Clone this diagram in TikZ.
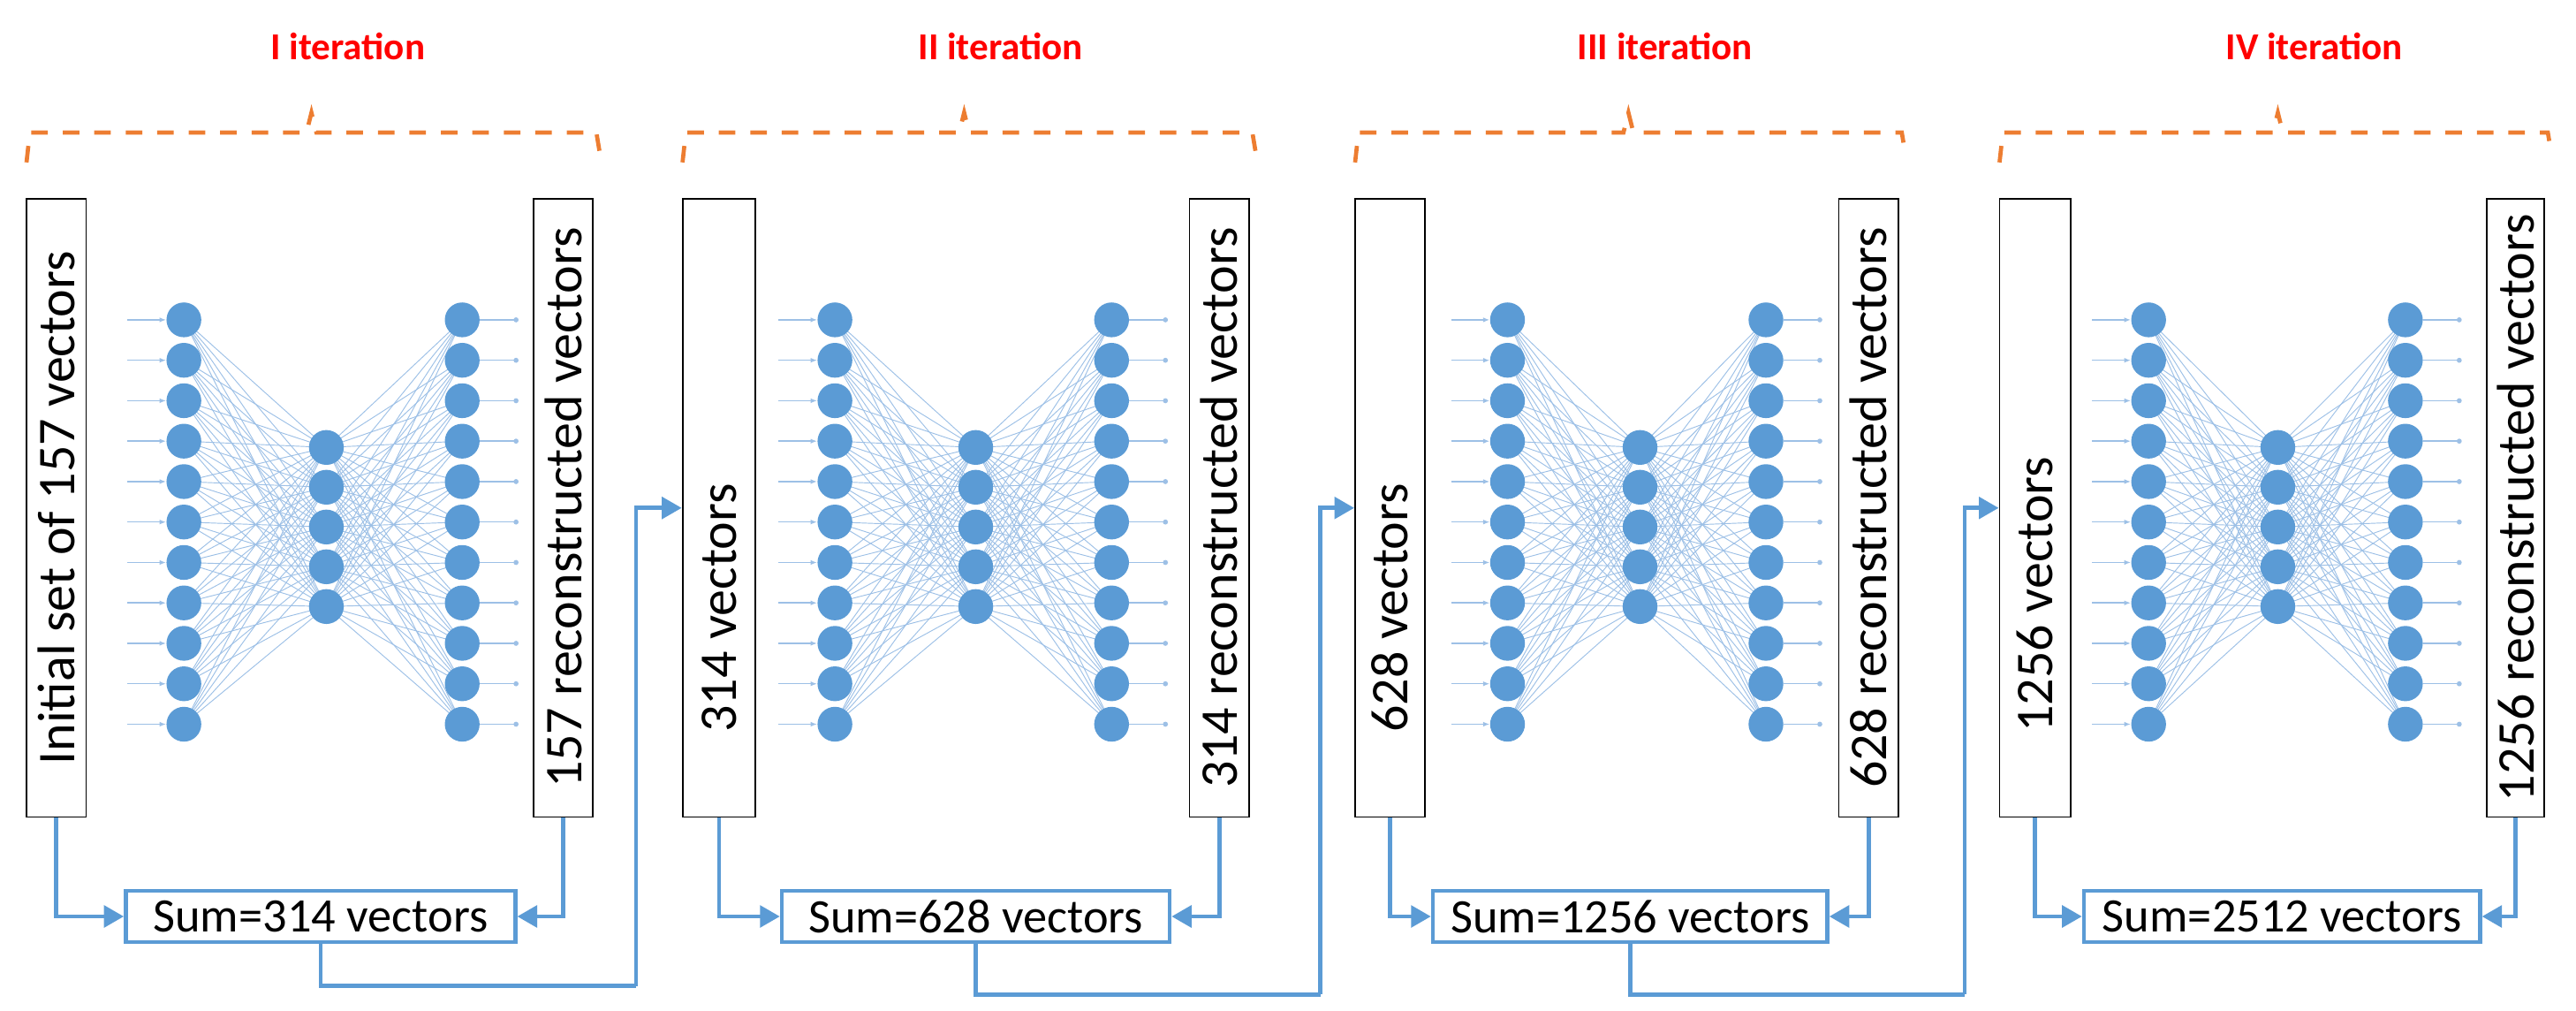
\documentclass[tikz,border=0pt]{standalone}
\usepackage{fontspec}
\setmainfont{Carlito}
\usetikzlibrary{arrows.meta}
\definecolor{nblue}{HTML}{5B9BD5}
\definecolor{eblue}{HTML}{9DC0E6}
\definecolor{orng}{HTML}{ED7D31}
\begin{document}
\begin{tikzpicture}[x=1pt,y=-1pt,
  box/.style={draw=black,line width=1pt,minimum width=#1,minimum height=373pt,inner sep=0pt},
  vtxt/.style={rotate=90,font=\fontsize{32}{34}\selectfont,inner sep=0pt},
  sumbox/.style={draw=nblue,line width=2.5pt,minimum width=#1,minimum height=31pt,inner sep=0pt,font=\fontsize{29}{32}\selectfont},
  neuron/.style={circle,fill=nblue,minimum size=21pt,inner sep=0pt},
  edge/.style={eblue,line width=0.5pt},
  flow/.style={nblue,line width=2.5pt,-{Triangle[length=12pt,width=13pt]}},
  feed/.style={nblue,line width=2.5pt},
  brk/.style={orng,line width=2.5pt,dash pattern=on 10pt off 9pt},
  ttl/.style={text=red,font=\bfseries\fontsize{23}{26}\selectfont}]
\useasboundingbox (0,0) rectangle (1555,610);
\foreach \b/\lL/\lR/\ix/\mx/\ox/\rL/\rR/\sL/\sR/\tx/\tt/\lt/\lp/\rt in {
 1/16/52/111/197/279/322/358/76/311/210/I iteration/Initial set of 157 vectors/c/157 reconstructed vectors,
 2/412/456/504/589/671/718/754/472/706/604/II iteration/314 vectors/w/314 reconstructed vectors,
 3/818/860/910/990/1066/1110/1146/865/1103/1005/III iteration/628 vectors/w/628 reconstructed vectors,
 4/1207/1250/1297/1375/1452/1501/1536/1258/1497/1397/IV iteration/1256 vectors/w/1256 reconstructed vectors}{
  \pgfmathsetmacro\lc{(\lL+\lR)/2}
  \pgfmathsetmacro\lw{\lR-\lL}
  \pgfmathsetmacro\rc{(\rL+\rR)/2}
  \pgfmathsetmacro\rw{\rR-\rL}
  \pgfmathsetmacro\sc{(\sL+\sR)/2}
  \pgfmathsetmacro\sw{\sR-\sL}
  \node[ttl] (T\b) at (\tx,28) {\tt};
  \draw[brk] (\lL,98) -- (\lL+2,80) -- (\tx-25,80) -- (\tx-22,68) -- (\tx-19,80) -- (\rR+2,80) -- (\rR+4,92);
  \node[box=\lw pt] (L\b) at (\lc,306.5) {};
  \node[box=\rw pt] (R\b) at (\rc,306.5) {};
  \if\lp c
    \node[vtxt] (LT\b) at (\lc,306.5) {\lt};
  \else
    \node[vtxt,anchor=west] (LT\b) at (\lc,442) {\lt};
  \fi
  \node[vtxt] (RT\b) at (\rc,306.5) {\rt};
  \node[sumbox=\sw pt] (S\b) at (\sc,553) {Sum=\pgfmathparse{int(157*2^\b)}\pgfmathresult{} vectors};
  \foreach \i in {0,...,10}{
    \coordinate (in\b-\i) at (\ix-34,193+24.4*\i);
    \coordinate (out\b-\i) at (\ox+34,193+24.4*\i);
  }
  \foreach \i in {0,...,10}{
    \foreach \j in {0,...,4}{
      \draw[edge] (\ix,193+24.4*\i) -- (\mx,270+24*\j) -- (\ox,193+24.4*\i);
    }
  }
  \foreach \i in {0,...,10}{
    \node[neuron] (A\b-\i) at (\ix,193+24.4*\i) {};
    \node[neuron] (C\b-\i) at (\ox,193+24.4*\i) {};
    \draw[edge,line width=0.8pt,-{Latex[length=4pt,width=3pt]}] (in\b-\i) -- (A\b-\i);
    \draw[edge,line width=0.8pt,-{Circle[length=3pt]}] (C\b-\i) -- (out\b-\i);
  }
  \foreach \j in {0,...,4}{
    \node[neuron] (B\b-\j) at (\mx,270+24*\j) {};
  }
  \draw[flow] (L\b.south) |- (S\b.west);
  \draw[flow] (R\b.south) |- (S\b.east);
}
\coordinate (c1) at (384,595);
\coordinate (c2) at (797,600);
\coordinate (c3) at (1186,600);
\draw[feed] (S1.south) |- (c1);
\draw[flow] (c1) |- (L2.west);
\draw[feed] (S2.south) |- (c2);
\draw[flow] (c2) |- (L3.west);
\draw[feed] (S3.south) |- (c3);
\draw[flow] (c3) |- (L4.west);
\end{tikzpicture}
\end{document}
